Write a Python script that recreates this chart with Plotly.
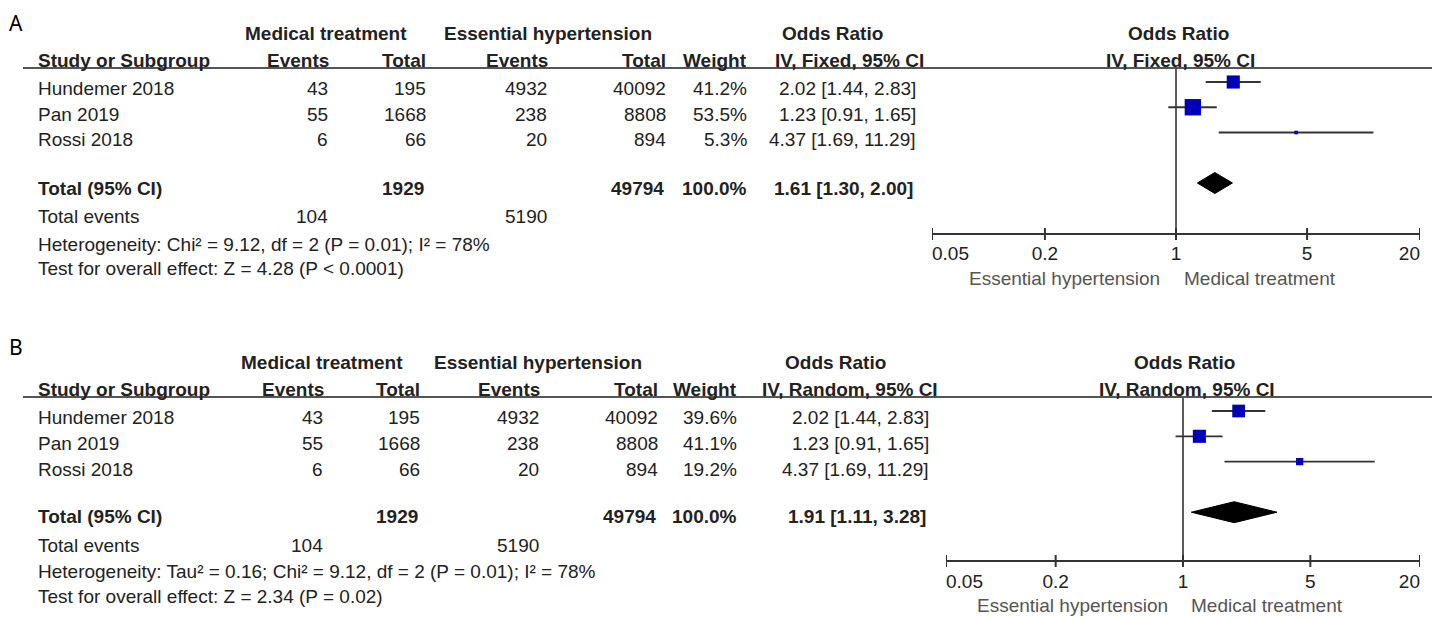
import math
import plotly.graph_objects as go

# page body has an 8px margin, so the figure is drawn from (8, 8)
OFF = 8
W, H = 1440 - OFF, 618 - OFF

# study data
studies = ["Hundemer 2018", "Pan 2019", "Rossi 2018"]
med_events = [43, 55, 6]
med_total = [195, 1668, 66]
ess_events = [4932, 238, 20]
ess_total = [40092, 8808, 894]
or_est = [2.02, 1.23, 4.37]
or_lo = [1.44, 0.91, 1.69]
or_hi = [2.83, 1.65, 11.29]
weight_fixed = [41.2, 53.5, 5.3]
weight_random = [39.6, 41.1, 19.2]
total_weight = 100.0
pooled_fixed = [1.61, 1.30, 2.00]
pooled_random = [1.91, 1.11, 3.28]
tick_vals = [0.05, 0.2, 1, 5, 20]
tick_text = ["0.05", "0.2", "1", "5", "20"]

FONT = "Liberation Sans, Arial, sans-serif"
TXT = "#222222"
FS = 19
PAD = 2  # annotation box padding


def px(x):
    return (x - OFF) / W


def py(y):
    return 1 - (y - OFF) / H


panels = [
    dict(label="A", model="Fixed", weights=weight_fixed, pooled=pooled_fixed,
         het="Heterogeneity: Chi² = 9.12, df = 2 (P = 0.01); I² = 78%",
         test="Test for overall effect: Z = 4.28 (P < 0.0001)",
         ys=dict(h1=33, h2=60, rows=[88, 114, 140], total=188, events=217, het=244, test=268),
         cols=[327, 425, 546, 665, 746, 915],
         h1x=[326, 548, 832], h2x=[328, 425, 547, 665, 746, 923],
         fx0=932, fx1=1420, line_y=68, axis_y=234, row1_y=82, step=25.25,
         tick_y=255, dir_y=278, dir_l=1159, dir_r=1185, for_h1=1178, for_h2=1180,
         dom=(20, 300), label_y=OFF),
    dict(label="B", model="Random", weights=weight_random, pooled=pooled_random,
         het="Heterogeneity: Tau² = 0.16; Chi² = 9.12, df = 2 (P = 0.01); I² = 78%",
         test="Test for overall effect: Z = 2.34 (P = 0.02)",
         ys=dict(h1=362, h2=389, rows=[417, 443, 469], total=517, events=545, het=571, test=596),
         cols=[322, 419, 538, 657, 736, 928],
         h1x=[322, 538, 835], h2x=[323, 419, 539, 657, 736, 937],
         fx0=946, fx1=1420, line_y=397, axis_y=561, row1_y=411, step=25.3,
         tick_y=583, dir_y=605, dir_l=1167, dir_r=1192, for_h1=1184, for_h2=1187,
         dom=(330, 618), label_y=332),
]

fig = go.Figure()
annotations = []
shapes = []


def txt(text, x, y, anchor="left", bold=False, color=TXT, size=FS, family=FONT, yanchor="middle"):
    if bold:
        text = "<b>" + text + "</b>"
    if anchor == "left":
        x -= PAD
    elif anchor == "right":
        x += PAD
    annotations.append(dict(
        text=text, x=px(x), y=py(y), xref="paper", yref="paper",
        xanchor=anchor, yanchor=yanchor, showarrow=False, borderpad=0,
        font=dict(family=family, size=size, color=color)))


fmt_or = lambda e, l, h: f"{e:.2f} [{l:.2f}, {h:.2f}]"

for i, p in enumerate(panels):
    ys = p["ys"]
    c = p["cols"]
    # panel letter (as far left / up as the page allows)
    txt(p["label"], OFF + PAD, p["label_y"], family="Noto Sans, sans-serif", size=21,
        color="#000000", yanchor="top")

    # headers
    txt("Medical treatment", p["h1x"][0], ys["h1"], "center", True)
    txt("Essential hypertension", p["h1x"][1], ys["h1"], "center", True)
    txt("Odds Ratio", p["h1x"][2], ys["h1"], "center", True)
    txt("Odds Ratio", p["for_h1"], ys["h1"], "center", True)
    txt("Study or Subgroup", 39, ys["h2"], "left", True)
    for name, x in zip(["Events", "Total", "Events", "Total", "Weight",
                        f"IV, {p['model']}, 95% CI"], p["h2x"]):
        txt(name, x, ys["h2"], "right", True)
    txt(f"IV, {p['model']}, 95% CI", p["for_h2"], ys["h2"], "center", True)

    shapes.append(dict(type="line", xref="paper", yref="paper",
                       x0=px(23), x1=1, y0=py(p["line_y"]), y1=py(p["line_y"]),
                       line=dict(color="#555555", width=2)))

    # study rows
    for j, s in enumerate(studies):
        y = ys["rows"][j]
        txt(s, 39, y)
        vals = [str(med_events[j]), str(med_total[j]), str(ess_events[j]),
                str(ess_total[j]), f"{p['weights'][j]:.1f}%",
                fmt_or(or_est[j], or_lo[j], or_hi[j])]
        for v, x in zip(vals, c):
            txt(v, x, y, "right")

    # total rows
    txt("Total (95% CI)", 39, ys["total"], "left", True)
    txt(str(sum(med_total)), c[1] - 2, ys["total"], "right", True)
    txt(str(sum(ess_total)), c[3] - 2, ys["total"], "right", True)
    txt(f"{total_weight:.1f}%", c[4], ys["total"], "right", True)
    txt(fmt_or(*p["pooled"]), c[5] - 3, ys["total"], "right", True)
    txt("Total events", 39, ys["events"])
    txt(str(sum(med_events)), c[0], ys["events"], "right")
    txt(str(sum(ess_events)), c[2], ys["events"], "right")
    txt(p["het"], 39, ys["het"])
    txt(p["test"], 39, ys["test"])

    # forest plot axes (row units)
    row = lambda pix, p=p: 1 + (pix - p["row1_y"]) / p["step"]
    xa = "x" if i == 0 else f"x{i + 1}"
    ya = "y" if i == 0 else f"y{i + 1}"
    d0, d1 = p["dom"]
    fig.layout[f"xaxis{'' if i == 0 else i + 1}"] = dict(
        domain=[px(p["fx0"]), px(p["fx1"])], type="log",
        range=[math.log10(0.05), math.log10(20)], visible=False, anchor=ya)
    fig.layout[f"yaxis{'' if i == 0 else i + 1}"] = dict(
        domain=[max(py(d1), 0), py(d0)], range=[row(d1), row(d0)], visible=False, anchor=xa)

    top, bot = row(p["line_y"]), row(p["axis_y"])
    study_rows = [1, 2, 3]
    total_row = 5

    # line of no effect
    fig.add_trace(go.Scatter(x=[1, 1], y=[top, bot], mode="lines", xaxis=xa, yaxis=ya,
                             line=dict(color="#333333", width=1.6), hoverinfo="skip"))
    # axis line and ticks
    fig.add_trace(go.Scatter(x=[tick_vals[0], tick_vals[-1]], y=[bot, bot], mode="lines",
                             xaxis=xa, yaxis=ya, line=dict(color="#333333", width=2),
                             hoverinfo="skip"))
    tl = 6 / p["step"]
    tx, ty = [], []
    for t in tick_vals:
        tx += [t, t, None]
        ty += [bot - tl, bot + tl, None]
    fig.add_trace(go.Scatter(x=tx, y=ty, mode="lines", xaxis=xa, yaxis=ya,
                             line=dict(color="#333333", width=2), hoverinfo="skip"))
    fig.add_trace(go.Scatter(
        x=tick_vals, y=[row(p["tick_y"])] * len(tick_vals), mode="text", text=tick_text,
        textposition=["middle right", "middle center", "middle center", "middle center",
                      "middle left"],
        textfont=dict(family=FONT, size=FS, color=TXT), xaxis=xa, yaxis=ya,
        cliponaxis=False, hoverinfo="skip"))
    txt("Essential hypertension", p["dir_l"], p["dir_y"], "right", color="#555555")
    txt("Medical treatment", p["dir_r"], p["dir_y"], "left", color="#555555")

    # confidence intervals
    cx, cy = [], []
    for j in range(len(studies)):
        cx += [or_lo[j], or_hi[j], None]
        cy += [study_rows[j], study_rows[j], None]
    fig.add_trace(go.Scatter(x=cx, y=cy, mode="lines", xaxis=xa, yaxis=ya,
                             line=dict(color="#333333", width=1.8), hoverinfo="skip"))
    # study squares sized by weight
    fig.add_trace(go.Scatter(
        x=or_est, y=study_rows, mode="markers", xaxis=xa, yaxis=ya,
        marker=dict(symbol="square", color="#0000b8", opacity=1,
                    size=[2.2 + 0.265 * w for w in p["weights"]], line=dict(width=0)),
        hoverinfo="skip"))
    # pooled diamond
    e, lo, hi = p["pooled"]
    hh = 10.5 / p["step"]
    fig.add_trace(go.Scatter(
        x=[lo, e, hi, e, lo], y=[total_row, total_row - hh, total_row, total_row + hh, total_row],
        mode="lines", fill="toself", fillcolor="#000000", xaxis=xa, yaxis=ya,
        line=dict(color="#000000", width=1), hoverinfo="skip"))

fig.update_layout(
    width=W, height=H, margin=dict(l=0, r=0, t=0, b=0),
    paper_bgcolor="white", plot_bgcolor="white", showlegend=False,
    annotations=annotations, shapes=shapes)

fig.write_html("out.html")
